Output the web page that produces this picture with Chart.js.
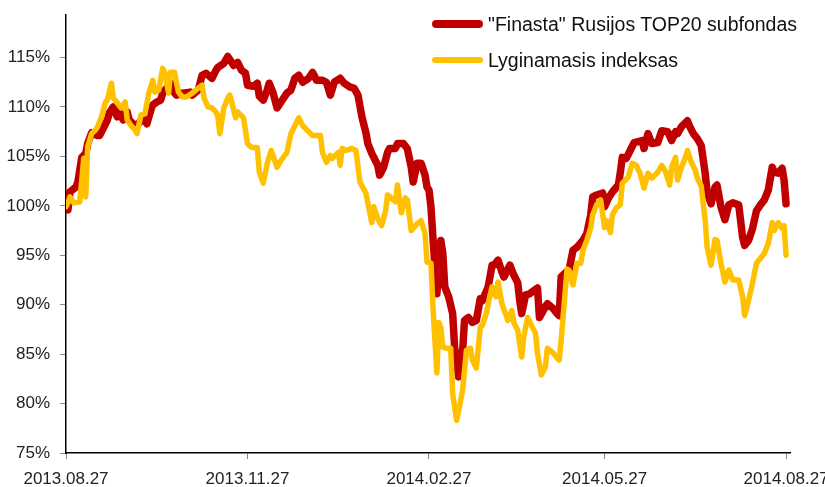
<!DOCTYPE html>
<html>
<head>
<meta charset="utf-8">
<script src="https://cdn.jsdelivr.net/npm/chart.js@4"></script>
<style>
  body { margin: 0; width: 825px; height: 487px; overflow: hidden; background: #fff; font-family: "Liberation Sans", Arial, sans-serif; }
  #wrap { position: relative; width: 870px; height: 487px; }
  #legend { position: absolute; left: 432px; top: 6px; }
  .row { display: flex; align-items: center; height: 36px; font-size: 19.5px; color: #111; white-space: nowrap; }
  .swatch { width: 51px; border-radius: 4px; margin-right: 5px; }
</style>
</head>
<body>
<div id="wrap">
  <canvas id="chart"></canvas>
  <div id="legend"></div>
</div>
<script>
// days counted from 2013.08.27
const tickDays = [0, 92, 184, 273, 365];
const tickLabels = ['2013.08.27', '2013.11.27', '2014.02.27', '2014.05.27', '2014.08.27'];

const fundLabel = '"Finasta" Rusijos TOP20 subfondas';
const fundDays = [0,1,2,5,6,8,10,11,13,16,17,19,21,22,24,26,27,29,31,32,34,36,39,41,43,44,46,48,49,51,53,54,56,59,63,64,67,69,71,74,76,77,80,82,85,87,89,91,92,95,97,98,100,102,103,105,107,109,112,114,116,118,120,123,125,127,130,132,134,136,139,141,144,146,148,150,152,153,155,158,159,161,163,164,167,168,171,173,175,176,178,180,182,183,184,185,186,188,190,191,192,194,196,197,199,201,202,204,206,208,210,211,214,216,217,219,221,222,225,227,229,230,231,233,235,239,240,243,244,247,249,250,251,253,255,257,259,262,264,266,267,269,272,273,275,277,280,281,282,284,286,288,292,293,295,297,300,302,305,307,309,310,312,315,316,318,320,322,324,325,327,329,330,332,334,336,338,341,343,344,346,348,350,352,354,356,358,359,361,363,364,365];
const fundValues = [99.8,99.6,101.4,101.9,102.4,104.9,105.3,106.3,107.4,107.1,107.1,107.9,108.7,109.4,110.0,109.0,109.5,108.7,109.5,108.7,108.3,108.1,108.9,108.3,109.7,110.2,110.5,110.7,111.4,111.9,112.4,111.7,111.2,111.4,111.5,111.2,111.7,113.2,113.4,112.9,113.7,114.0,114.4,115.1,114.2,114.5,113.7,113.4,112.2,112.1,112.4,111.1,110.7,111.7,112.4,111.4,109.9,110.5,111.4,111.7,112.9,113.2,112.5,112.9,113.5,112.7,112.7,112.5,111.2,112.5,112.9,112.4,112.0,111.9,111.2,109.0,107.4,106.3,105.3,104.1,103.1,103.9,105.4,105.8,105.8,106.3,106.3,105.8,103.9,102.4,104.3,104.3,103.1,101.9,101.6,99.9,96.8,91.1,96.5,95.2,91.8,90.8,89.1,85.7,82.7,85.1,88.4,88.7,88.2,88.4,90.6,90.4,91.8,94.0,94.0,94.5,93.3,92.8,94.0,93.0,92.2,90.4,89.1,91.0,91.1,91.7,88.7,89.8,90.1,89.6,89.1,88.9,92.8,93.2,93.5,95.5,95.8,96.5,97.2,99.1,100.9,101.1,101.3,99.9,100.8,101.4,102.1,103.4,104.9,104.8,105.6,106.4,106.6,105.8,107.3,106.3,106.4,107.6,107.5,106.6,107.5,107.3,108.0,108.6,108.1,107.3,106.8,106.1,103.3,101.3,100.2,101.9,102.1,99.9,98.6,100.1,100.3,100.1,96.8,96.0,96.5,97.7,99.5,100.1,100.6,101.6,103.9,103.4,103.3,103.8,102.6,100.2];

const indexLabel = 'Lyginamasis indeksas';
const indexDays = [0,1,2,4,7,9,10,11,13,15,16,18,20,21,23,24,26,28,30,31,33,35,36,38,40,42,44,45,47,49,50,52,53,55,57,59,61,64,67,69,70,72,74,76,77,78,80,82,83,84,86,87,90,92,94,97,98,100,102,104,107,109,112,114,115,118,120,123,125,129,130,132,134,135,138,139,140,142,145,147,149,152,153,155,156,158,160,162,163,166,167,168,170,172,173,175,178,180,182,183,185,186,188,189,190,191,193,195,196,198,201,203,205,206,208,210,211,213,215,216,218,219,221,224,226,227,229,231,232,234,236,238,239,241,243,244,247,249,250,251,254,255,257,259,261,262,264,266,267,269,271,273,274,276,277,279,281,282,285,287,289,291,293,295,297,300,302,304,306,307,309,310,312,314,315,317,319,320,322,324,325,327,329,330,332,334,336,338,341,343,344,345,347,348,350,352,354,356,358,359,361,363,364,365];
const indexValues = [99.9,100.3,100.9,100.3,100.4,104.8,100.9,106.0,107.3,107.7,108.0,109.0,110.5,110.7,112.4,110.9,110.4,109.9,110.5,108.7,108.1,107.7,107.3,109.2,109.3,111.4,112.7,111.5,111.7,113.9,113.5,111.4,113.5,113.5,111.5,111.0,111.0,111.4,111.9,112.2,110.9,110.0,109.9,109.5,109.0,107.3,109.9,110.9,111.2,110.5,108.9,109.5,108.9,106.3,105.9,105.9,103.4,102.3,104.3,105.6,103.9,104.6,105.4,107.3,107.7,108.9,108.1,107.5,107.1,107.1,105.4,104.4,105.1,104.8,105.4,104.1,105.8,105.6,105.8,105.6,102.4,101.3,100.3,98.3,99.9,98.7,98.0,99.5,101.1,100.6,100.4,102.1,99.3,100.8,100.6,97.5,98.2,98.5,97.2,94.3,94.2,89.8,83.1,88.2,87.7,85.7,85.6,85.6,81.0,78.3,81.3,85.4,85.6,84.4,83.6,87.7,87.9,89.1,91.0,91.8,90.8,92.3,90.1,88.4,89.4,88.2,87.4,84.7,86.7,88.7,87.9,87.1,85.1,82.9,83.7,85.6,85.1,84.6,84.4,86.4,93.6,93.5,92.0,94.2,94.2,95.5,96.5,97.8,99.1,100.1,100.6,97.8,98.5,97.3,99.1,99.8,100.1,102.3,102.9,104.3,104.1,103.3,101.8,103.3,102.8,103.4,104.1,103.4,102.1,103.9,104.9,102.6,103.9,104.9,105.6,104.4,103.6,102.8,102.0,98.5,95.8,94.0,96.6,96.5,94.2,92.3,93.5,92.5,92.5,90.8,88.9,89.6,91.3,92.2,94.2,94.7,95.2,96.2,98.3,97.5,98.3,97.7,98.0,95.0];

function points(days, values) {
  return days.map((d, i) => ({ x: d, y: values[i] }));
}

const tickFont = { family: '"Liberation Sans", Arial, sans-serif', size: 17 };

const chart = new Chart(document.getElementById('chart'), {
  type: 'line',
  data: {
    datasets: [
      {
        label: fundLabel,
        data: points(fundDays, fundValues),
        borderColor: '#C00000',
        borderWidth: 7.5,
        order: 1,
        swatch: 8
      },
      {
        label: indexLabel,
        data: points(indexDays, indexValues),
        borderColor: '#FFC000',
        borderWidth: 5.5,
        order: 0,
        swatch: 6
      }
    ]
  },
  options: {
    responsive: true,
    maintainAspectRatio: false,
    animation: false,
    layout: { padding: { left: 0, top: 15, right: 80, bottom: 0 } },
    elements: {
      point: { radius: 0 },
      line: { tension: 0, borderJoinStyle: 'round', borderCapStyle: 'round' }
    },
    plugins: {
      legend: { display: false },
      tooltip: { enabled: false }
    },
    scales: {
      x: {
        type: 'linear',
        min: 0,
        max: 367,
        afterBuildTicks: s => { s.ticks = tickDays.map(v => ({ value: v })); },
        afterFit: s => { s.height = 34; },
        ticks: {
          autoSkip: false,
          maxRotation: 0,
          padding: 10,
          color: '#222',
          font: tickFont,
          callback: (v, i) => tickLabels[i]
        },
        grid: { drawOnChartArea: false, tickLength: 6, color: '#888' },
        border: { color: '#000', width: 1.5 }
      },
      y: {
        min: 75,
        max: 119.3,
        afterBuildTicks: s => { s.ticks = s.ticks.filter(t => t.value % 5 === 0); },
        afterFit: s => { s.width = 66; s.paddingTop = 0; s.paddingBottom = 0; },
        ticks: {
          stepSize: 5,
          padding: 10,
          color: '#222',
          font: tickFont,
          callback: v => v + '%'
        },
        grid: { drawOnChartArea: false, tickLength: 6, color: '#888' },
        border: { color: '#000', width: 1.5 }
      }
    }
  }
});

// legend as html, built from the datasets
const legendBox = document.getElementById('legend');
chart.data.datasets.forEach(ds => {
  const row = document.createElement('div');
  row.className = 'row';
  const sw = document.createElement('span');
  sw.className = 'swatch';
  sw.style.height = ds.swatch + 'px';
  sw.style.background = ds.borderColor;
  const txt = document.createElement('span');
  txt.textContent = ds.label;
  row.appendChild(sw);
  row.appendChild(txt);
  legendBox.appendChild(row);
});
</script>
</body>
</html>
